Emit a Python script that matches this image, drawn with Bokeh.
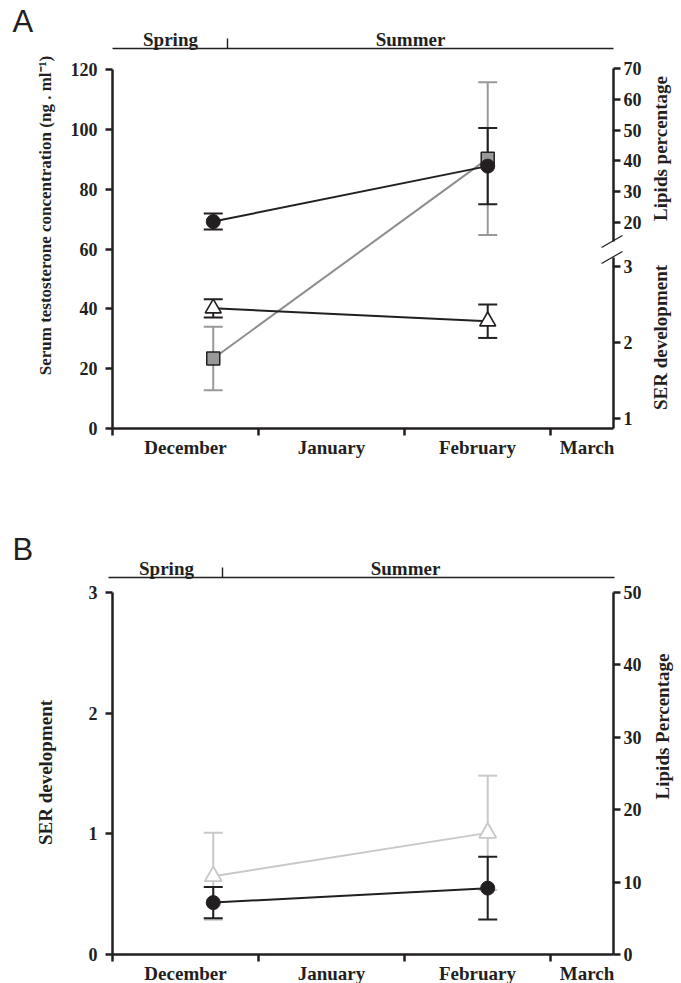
from math import pi
from bokeh.plotting import figure
from bokeh.models import (Range1d, LinearAxis, FixedTicker, Whisker, ColumnDataSource,
                          Label, Arrow, TeeHead)
from bokeh.layouts import column
from bokeh.embed import file_html
from bokeh.resources import INLINE

# ---------------- data ----------------
months = ["December", "January", "February", "March"]
month_label_pos = [0.5, 1.5, 2.5, 3.25]
month_edges = [0, 1, 2, 3]
sample_x = [0.69, 2.57]          # sampling dates (months since 1 December)
seasons = ["Spring", "Summer"]

# Panel A
testosterone = [23.4, 90.2]
testosterone_err = [10.6, 25.5]
lipids_a = [20.3, 38.3]
lipids_a_err = [2.6, 12.4]
ser_a = [2.45, 2.28]
ser_a_err = [0.12, 0.22]
testo_ticks = [0, 20, 40, 60, 80, 100, 120]
lipid_ticks_a = [20, 30, 40, 50, 60, 70]
ser_ticks_a = [1, 2, 3]

# Panel B
ser_b = [0.43, 0.55]
ser_b_err = [0.13, 0.26]
lipids_b = [10.8, 16.8]
lipids_b_err = [6.0, 7.9]
ser_ticks_b = [0, 1, 2, 3]
lipid_ticks_b = [0, 10, 20, 30, 40, 50]

# ---------------- layout constants (page pixels) ----------------
INK = "#231f20"
GRAY = "#8c8c8c"
SQFILL = "#999999"
LIGHT = "#c8c8c8"
SERIF = "Liberation Serif"
SANS = "Liberation Sans"

W = 681
HA, HB = 487, 496
X0_PX, PX_PER_MONTH, XR_PX = 112, 146.0, 613


def xd(px):
    return (px - X0_PX) / PX_PER_MONTH


X_END = xd(XR_PX)


def anchored_range(v1, py1, v2, py2, top, bot):
    """Range whose values v1/v2 sit at page rows py1/py2 on a canvas spanning top..bot."""
    k = (py2 - py1) / float(v1 - v2)
    return Range1d(v2 - (bot - py2) / k, v1 + (py1 - top) / k)


def conv(rng, top, bot):
    def f(py):
        return rng.start + (bot - py) / float(bot - top) * (rng.end - rng.start)
    return f


def style_axis(ax, standoff, tick_out=7):
    ax.axis_line_width = 2.5
    ax.axis_line_color = INK
    ax.major_tick_line_width = 2.5
    ax.major_tick_line_color = INK
    ax.major_tick_out = tick_out
    ax.major_tick_in = 0
    ax.minor_tick_out = 0
    ax.minor_tick_in = 0
    ax.major_label_standoff = standoff
    ax.major_label_text_font = SERIF
    ax.major_label_text_font_style = "bold"
    ax.major_label_text_font_size = "18px"
    ax.major_label_text_color = INK


def make_fig(height, yr):
    p = figure(width=W, height=height, x_range=Range1d(xd(0), xd(W)), y_range=yr,
               output_backend="svg", toolbar_location=None, tools="",
               x_axis_location=None, y_axis_location=None,
               min_border_left=0, min_border_right=0, min_border_top=0, min_border_bottom=0)
    p.outline_line_color = None
    p.grid.visible = False
    p.background_fill_color = "white"
    p.border_fill_color = "white"
    return p


def month_axis(p, y0, standoff):
    xa = LinearAxis(fixed_location=y0, bounds=(0, X_END),
                    ticker=FixedTicker(ticks=month_label_pos, minor_ticks=month_edges))
    xa.major_label_overrides = {pos: m for pos, m in zip(month_label_pos, months)}
    style_axis(xa, standoff, tick_out=0)
    xa.minor_tick_out = 7
    xa.minor_tick_line_width = 2.5
    xa.minor_tick_line_color = INK
    xa.major_label_text_font_size = "19px"
    p.add_layout(xa, "below")


def txt(p, x, y, text, size, angle=0.0, align="center", baseline="middle",
        font=SERIF, style="bold"):
    p.add_layout(Label(x=x, y=y, text=text, text_font=font, text_font_size=f"{size}px",
                       text_font_style=style, angle=angle, text_align=align,
                       text_baseline=baseline, text_color=INK))


def seg(p, x0, y0, x1, y1, color=INK, width=1.5):
    p.add_layout(Arrow(start=None, end=None, x_start=x0, y_start=y0, x_end=x1, y_end=y1,
                       line_color=color, line_width=width))


def whisk(p, xs, v, e, color, rname="default", width=2, cap=19):
    src = ColumnDataSource(dict(x=xs, up=[a + b for a, b in zip(v, e)],
                                lo=[a - b for a, b in zip(v, e)]))
    p.add_layout(Whisker(source=src, base="x", upper="up", lower="lo",
                         line_color=color, line_width=width, y_range_name=rname,
                         upper_head=TeeHead(size=cap, line_color=color, line_width=width),
                         lower_head=TeeHead(size=cap, line_color=color, line_width=width)))


def season_bar(p, yc, y_line, x_from, x_to, split_px, spring_px, summer_px, letter, letter_mid):
    yl = yc(y_line)
    seg(p, xd(x_from), yl, xd(x_to), yl, width=1.6)
    seg(p, xd(split_px), yl, xd(split_px), yc(y_line - 10), width=1.4)
    txt(p, xd(spring_px), yc(y_line - 9), seasons[0], 19)
    txt(p, xd(summer_px), yc(y_line - 9), seasons[1], 19)
    txt(p, xd(12), yc(letter_mid), letter, 31, align="left", font=SANS, style="normal")


# ---------------- Panel A ----------------
A_T, A_B = 0, HA
testo_rng = anchored_range(120, 69, 0, 428, A_T, A_B)
lip_rng = anchored_range(70, 68, 20, 222, A_T, A_B)
ser_rng = anchored_range(3, 266, 1, 418, A_T, A_B)
ya = conv(testo_rng, A_T, A_B)
ylip = conv(lip_rng, A_T, A_B)
yser = conv(ser_rng, A_T, A_B)

pA = make_fig(HA, testo_rng)
pA.extra_y_ranges = {"lip": lip_rng, "ser": ser_rng}

month_axis(pA, 0, 1)
la = LinearAxis(fixed_location=0, bounds=(0, 120), ticker=FixedTicker(ticks=testo_ticks))
style_axis(la, 8)
pA.add_layout(la, "left")

BREAK_HI, BREAK_LO = 241, 257          # rows where the right axis is interrupted
ra_up = LinearAxis(y_range_name="lip", fixed_location=X_END,
                   bounds=(ylip(BREAK_HI), lipid_ticks_a[-1]),
                   ticker=FixedTicker(ticks=lipid_ticks_a))
style_axis(ra_up, 3)
pA.add_layout(ra_up, "right")
ra_lo = LinearAxis(y_range_name="ser", fixed_location=X_END,
                   bounds=(yser(428), yser(BREAK_LO)),
                   ticker=FixedTicker(ticks=ser_ticks_a))
style_axis(ra_lo, 3)
pA.add_layout(ra_lo, "right")
for cy in (BREAK_HI, BREAK_LO):
    seg(pA, X_END - 12 / PX_PER_MONTH, ya(cy + 6), X_END + 9 / PX_PER_MONTH, ya(cy - 6),
        width=1.2)

whisk(pA, sample_x, testosterone, testosterone_err, SQFILL)
whisk(pA, sample_x, lipids_a, lipids_a_err, INK, rname="lip")
whisk(pA, sample_x, ser_a, ser_a_err, INK, rname="ser")

pA.line(sample_x, testosterone, line_color=GRAY, line_width=2)
pA.scatter(sample_x, testosterone, marker="square", size=13, fill_color=SQFILL,
           line_color=INK, line_width=1.5)
pA.line(sample_x, lipids_a, line_color=INK, line_width=2, y_range_name="lip")
pA.scatter(sample_x, lipids_a, marker="circle", size=14, fill_color=INK, line_color=INK,
           y_range_name="lip")
pA.line(sample_x, ser_a, line_color=INK, line_width=2, y_range_name="ser")
pA.scatter(sample_x, ser_a, marker="triangle", size=16, fill_color="white", line_color=INK,
           line_width=1.6, y_range_name="ser")

txt(pA, xd(45), ya(215), "Serum testosterone concentration (ng . ml\u207b\u00b9)", 17, angle=pi / 2)
txt(pA, xd(660), ya(148), "Lipids percentage", 19, angle=pi / 2)
txt(pA, xd(660), ya(337), "SER development", 19, angle=pi / 2)
season_bar(pA, ya, 48, 112, 613, 227, 170, 410, "A", 21)

# ---------------- Panel B ----------------
B_T, B_B = HA, HA + HB
serb_rng = anchored_range(3, 592, 0, 954, B_T, B_B)
lipb_rng = anchored_range(50, 592, 0, 954, B_T, B_B)
yb = conv(serb_rng, B_T, B_B)

pB = make_fig(HB, serb_rng)
pB.extra_y_ranges = {"lip": lipb_rng}
month_axis(pB, 0, 1)
lb = LinearAxis(fixed_location=0, bounds=(0, 3), ticker=FixedTicker(ticks=ser_ticks_b))
style_axis(lb, 8)
pB.add_layout(lb, "left")
rb = LinearAxis(y_range_name="lip", fixed_location=X_END, bounds=(0, 50),
                ticker=FixedTicker(ticks=lipid_ticks_b))
style_axis(rb, 3)
pB.add_layout(rb, "right")

whisk(pB, sample_x, lipids_b, lipids_b_err, LIGHT, rname="lip")
whisk(pB, sample_x, ser_b, ser_b_err, INK)
pB.line(sample_x, lipids_b, line_color=LIGHT, line_width=2, y_range_name="lip")
pB.scatter(sample_x, lipids_b, marker="triangle", size=17, fill_color="white",
           line_color=LIGHT, line_width=1.8, y_range_name="lip")
pB.line(sample_x, ser_b, line_color=INK, line_width=2)
pB.scatter(sample_x, ser_b, marker="circle", size=14, fill_color=INK, line_color=INK)

txt(pB, xd(45), yb(772), "SER development", 19, angle=pi / 2)
txt(pB, xd(662), yb(726), "Lipids Percentage", 19, angle=pi / 2)
season_bar(pB, yb, 577, 108, 614, 222, 166, 405, "B", 549)

layout = column(pA, pB, spacing=0)
open("out.html", "w").write(file_html(layout, INLINE))
